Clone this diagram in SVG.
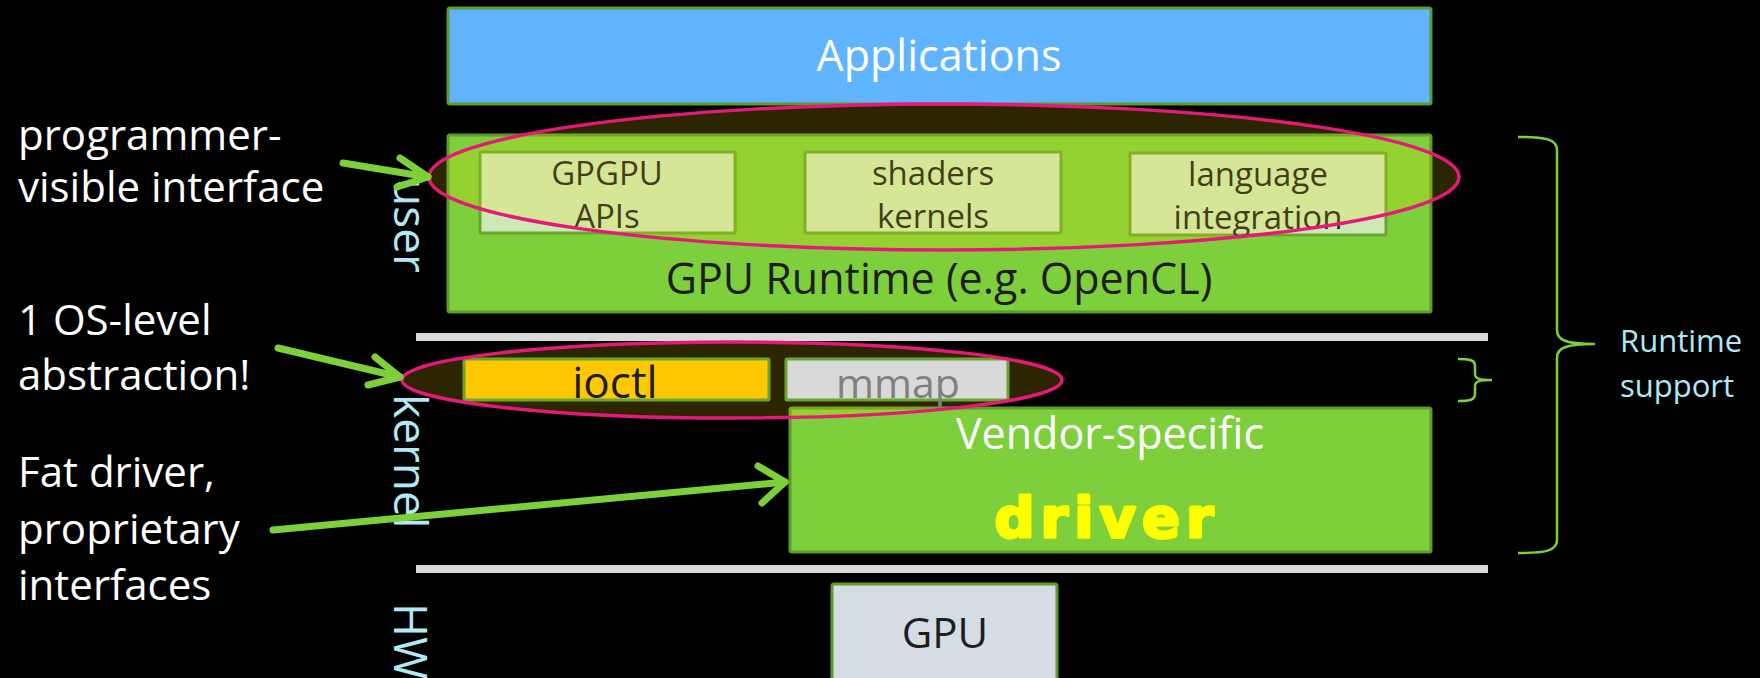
<svg xmlns="http://www.w3.org/2000/svg" width="1760" height="678" viewBox="0 0 1760 678">
<style>
text{font-family:"Open Sans","Liberation Sans",sans-serif}
.box{stroke:#5e9a2c;stroke-width:3}
.green{fill:#7dcf3c}
.inner{fill:#cde9b5;stroke:#6aa530;stroke-width:3}
.note{fill:#ffffff;font-size:42px}
.layer{fill:#b0e8f4;font-size:46px}
.dark{fill:#1e1e1e}
.sep{fill:#d9d9d9}
.arrow{fill:none;stroke:#7ed03a;stroke-width:7;stroke-linecap:round;stroke-linejoin:round}
.brace{fill:none;stroke:#7ed03a;stroke-width:2.5}
.oval{fill:#ffe000;fill-opacity:0.17;stroke:#e6197a;stroke-width:3.5}
</style>
<rect width="1760" height="678" fill="#000000"/>

<g id="separators">
<rect class="sep" x="416" y="333" width="1072" height="8"/>
<rect class="sep" x="416" y="565" width="1072" height="8"/>
</g>

<g id="applications">
<rect class="box" x="448" y="8" width="983" height="96" rx="2" fill="#61b4ff"/>
<text x="939" y="71" text-anchor="middle" fill="#ffffff" font-size="43">Applications</text>
</g>

<g id="runtime">
<rect class="box green" x="448" y="135" width="983" height="177" rx="2"/>
<text class="dark" x="939" y="294" text-anchor="middle" font-size="43">GPU Runtime (e.g. OpenCL)</text>
</g>

<g id="gpgpu-apis">
<rect class="inner" x="480" y="152" width="255" height="81" rx="1"/>
<text class="dark" x="607" y="185" text-anchor="middle" font-size="33">GPGPU</text>
<text class="dark" x="607" y="228" text-anchor="middle" font-size="33">APIs</text>
</g>

<g id="shaders-kernels">
<rect class="inner" x="805" y="152" width="256" height="81" rx="1"/>
<text class="dark" x="933" y="185" text-anchor="middle" font-size="33">shaders</text>
<text class="dark" x="933" y="228" text-anchor="middle" font-size="33">kernels</text>
</g>

<g id="language-integration">
<rect class="inner" x="1130" y="153" width="256" height="82" rx="1"/>
<text class="dark" x="1258" y="186" text-anchor="middle" font-size="33">language</text>
<text class="dark" x="1258" y="229" text-anchor="middle" font-size="33">integration</text>
</g>

<g id="user-oval">
<ellipse class="oval" cx="944" cy="177" rx="515" ry="73"/>
</g>

<g id="driver">
<rect class="box green" x="790" y="408" width="641" height="144" rx="2"/>
<text x="1110" y="449" text-anchor="middle" fill="#ffffff" font-size="43">Vendor-specific</text>
<text x="1107" y="537" text-anchor="middle" fill="#ffff00" stroke="#ffff00" stroke-width="3" stroke-linejoin="round" font-size="56" font-weight="bold" letter-spacing="6" style="font-family:'DejaVu Sans',sans-serif">driver</text>
</g>

<g id="kernel-oval-fill">
<ellipse cx="732" cy="380" rx="330" ry="38" fill="#ffe000" fill-opacity="0.17"/>
</g>

<g id="ioctl">
<rect x="464" y="359" width="305" height="41" fill="#ffc800" stroke="#6aa530" stroke-width="3" rx="1"/>
<text class="dark" x="615" y="398" text-anchor="middle" font-size="44">ioctl</text>
</g>

<g id="mmap">
<rect x="786" y="359" width="222" height="41" fill="#d9d9d9" stroke="#6aa530" stroke-width="3" rx="1"/>
<text x="898" y="398" text-anchor="middle" fill="#808080" font-size="41">mmap</text>
</g>

<g id="kernel-oval">
<ellipse cx="732" cy="380" rx="330" ry="38" fill="none" stroke="#e6197a" stroke-width="3.5"/>
</g>

<g id="gpu">
<rect class="box" x="832" y="584" width="225" height="110" rx="2" fill="#d6dce4"/>
<text class="dark" x="945" y="648" text-anchor="middle" font-size="42">GPU</text>
</g>

<g id="layer-labels">
<text class="layer" transform="translate(394,178) rotate(90)">user</text>
<text class="layer" transform="translate(394,394) rotate(90)">kernel</text>
<text class="layer" transform="translate(394,603) rotate(90)" font-size="43">HW</text>
</g>

<g id="notes">
<text class="note" x="18" y="150">programmer-</text>
<text class="note" x="18" y="202">visible interface</text>
<text class="note" x="18" y="335">1 OS-level</text>
<text class="note" x="18" y="390">abstraction!</text>
<text class="note" x="18" y="487">Fat driver,</text>
<text class="note" x="18" y="544">proprietary</text>
<text class="note" x="18" y="600">interfaces</text>
</g>

<g id="runtime-support">
<text x="1620" y="352" fill="#b0e8f4" font-size="31">Runtime</text>
<text x="1620" y="397" fill="#b0e8f4" font-size="31">support</text>
</g>

<g id="connectors">
<line class="arrow" x1="343" y1="163" x2="428" y2="177"/>
<polyline class="arrow" points="400,158 428,177 397,187"/>
<line class="arrow" x1="278" y1="348" x2="400" y2="377"/>
<polyline class="arrow" points="375,357 400,377 368,385"/>
<line class="arrow" x1="273" y1="530" x2="785" y2="482"/>
<polyline class="arrow" points="758,466 785,482 762,503"/>
<path class="brace" d="M1518,137 C1545,137 1557,139 1557,150 L1557,330 C1557,340 1565,344 1595,344 C1565,344 1557,348 1557,358 L1557,540 C1557,551 1545,553 1518,553"/>
<path class="brace" d="M1458,359 C1470,359 1475,360 1475,366 L1475,374 C1475,379 1480,380 1492,380 C1480,380 1475,381 1475,386 L1475,394 C1475,400 1470,401 1458,401"/>
</g>
</svg>
